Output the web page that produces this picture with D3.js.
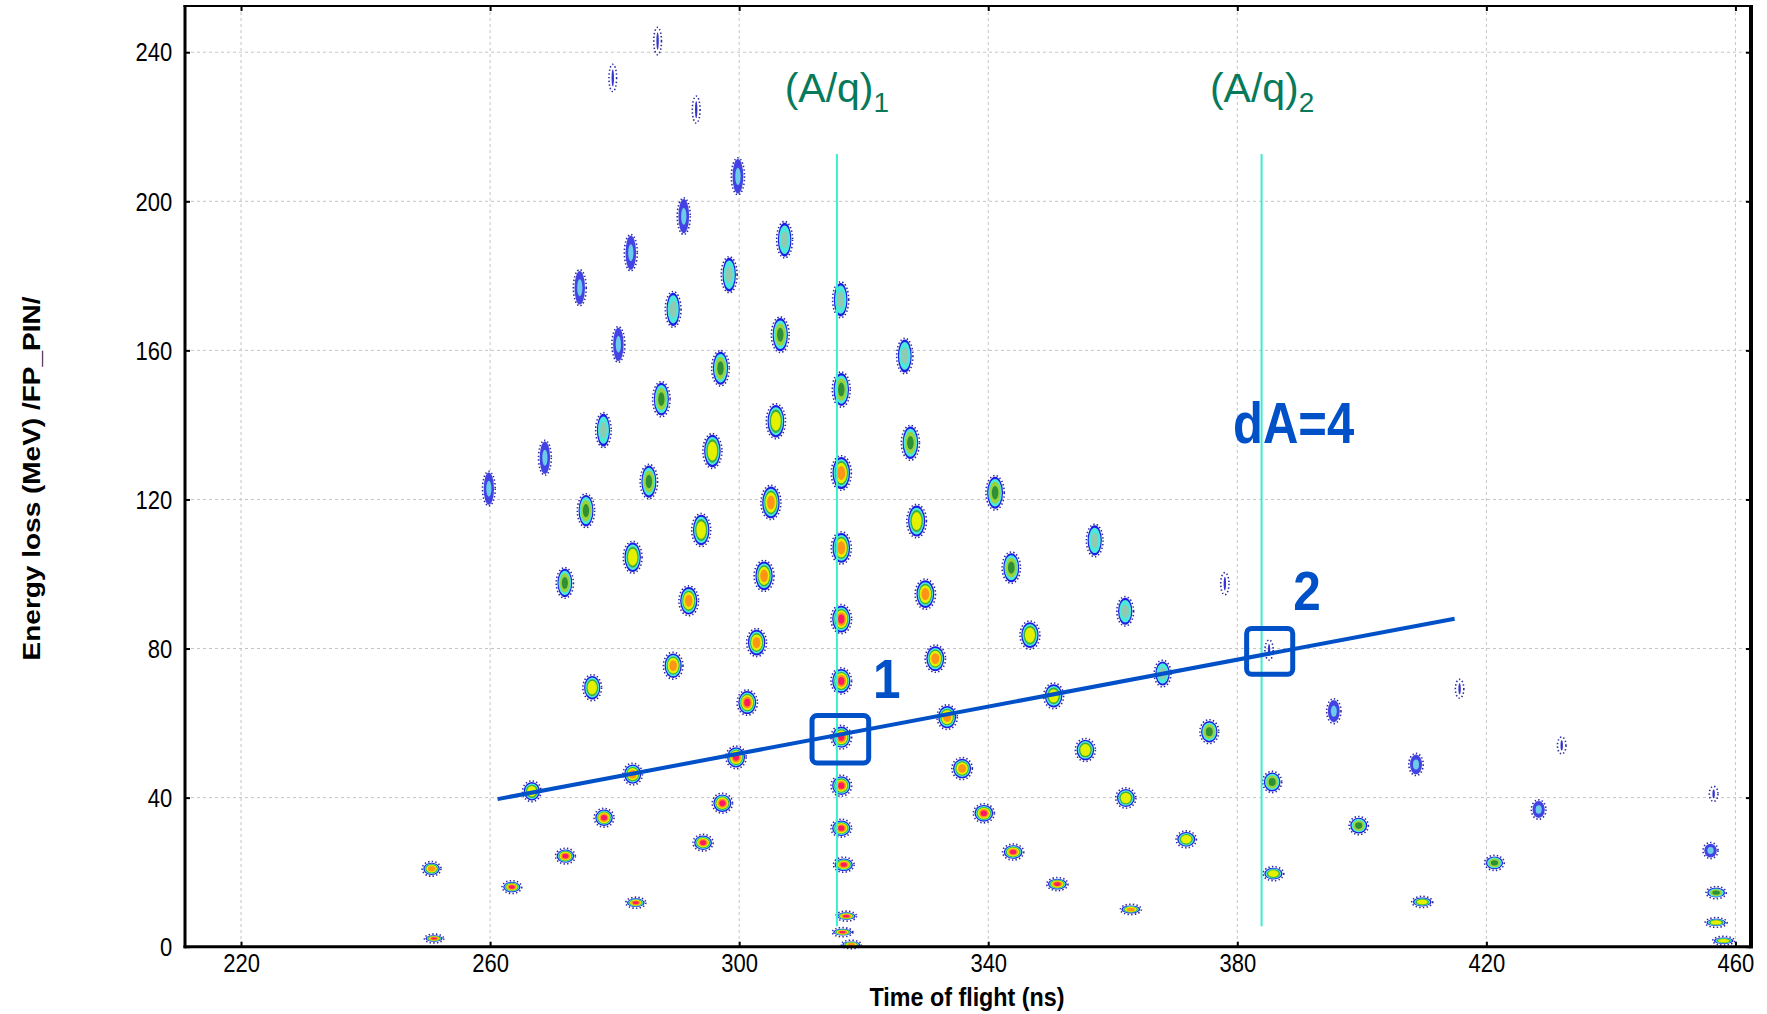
<!DOCTYPE html>
<html>
<head>
<meta charset="utf-8">
<script src="https://cdn.jsdelivr.net/npm/d3@7"></script>
<style>
  html, body { margin: 0; padding: 0; background: #ffffff; }
  svg { display: block; }
</style>
</head>
<body>
<svg id="chart" width="1767" height="1014"></svg>
<script>
// ---- Axis ticks ----
const xTicks = [220, 260, 300, 340, 380, 420, 460];
const yTicks = [0, 40, 80, 120, 160, 200, 240];
const xLimits = [211, 462.5];
const yLimits = [0, 252.4];

// ---- Identified isotope clusters: time of flight (ns), energy loss (MeV), peak count level (1 = few counts ... 7 = highest) ----
const tofNs = [
  286.9, 279.7, 293.1, 299.8, 291.1, 307.3, 282.6, 298.4, 316.3, 274.4,
  289.4, 306.6, 280.6, 326.6, 297.0, 287.5, 316.4, 305.9, 278.2, 327.5,
  268.8, 295.7, 259.8, 285.5, 316.4, 275.4, 305.1, 341.1, 328.5, 293.9,
  357.1, 316.4, 282.9, 304.0, 343.7, 272.0, 378.0, 329.9, 291.9, 362.0,
  316.4, 302.8, 346.7, 385.1, 331.5, 289.4, 276.4, 316.4, 368.0, 350.5,
  395.5, 301.3, 333.4, 316.4, 355.6, 375.5, 415.7, 432.1, 299.5, 282.9,
  335.8, 316.4, 266.7, 385.6, 408.7, 362.1, 297.3, 339.3, 278.3, 428.4,
  316.4, 399.5, 371.8, 294.2, 272.1, 344.0, 456.0, 250.6, 316.8, 421.3,
  263.5, 351.1, 456.9, 409.7, 283.4, 385.8, 362.9, 317.2, 456.9, 251.0,
  316.6, 458.1, 318.0, 456.5
];
const dEMeV = [
  243.0, 233.1, 224.6, 206.7, 196.0, 189.7, 186.2, 180.3, 173.6, 176.8,
  171.0, 164.2, 161.6, 158.5, 155.2, 146.9, 149.5, 141.0, 138.6, 135.2,
  131.2, 133.0, 122.9, 124.8, 127.1, 117.0, 119.2, 121.8, 114.2, 111.8,
  109.0, 107.0, 104.5,  99.5, 101.7,  97.6,  97.4,  94.6,  92.8,  90.0,
   87.9,  81.6,  83.6,  79.6,  77.3,  75.4,  69.5,  71.3,  73.3,  67.3,
   63.2,  65.5,  61.6,  56.2,  52.8,  57.7,  69.2,  54.0,  50.8,  46.3,
   47.8,  43.2,  41.7,  44.2,  48.9,  39.9,  38.5,  35.8,  34.6,  36.8,
   31.8,  32.5,  28.8,  27.9,  24.3,  25.4,  25.8,  20.9,  22.0,  22.5,
   16.0,  16.8,  14.5,  12.0,  11.8,  19.6,  10.0,   8.2,   6.5,   2.2,
    3.9,   1.6,   0.6,  41.0
];
const peakLevel = [
  1, 1, 1, 2, 2, 3, 2, 3, 3, 2,
  3, 4, 2, 3, 4, 4, 4, 5, 3, 4,
  2, 5, 2, 4, 6, 4, 6, 4, 5, 5,
  3, 6, 5, 6, 4, 4, 1, 6, 6, 3,
  7, 6, 5, 1, 6, 6, 5, 7, 3, 5,
  2, 7, 6, 7, 5, 4, 1, 1, 7, 6,
  6, 7, 5, 4, 2, 5, 7, 7, 7, 2,
  7, 4, 5, 7, 7, 7, 2, 6, 7, 4,
  7, 7, 4, 5, 7, 5, 6, 7, 5, 7,
  7, 5, 6, 1
];

// ---- Constant A/q markers ----
const aqTof = [315.7, 383.9];
const aqSpanDE = [5.5, 212.7];
const aqIndex = ["1", "2"];
const aqLabelTof = [307.3, 375.6];
const aqLabelDE = 226.7;

// ---- Line through neighbouring isotopes (dA = 4) ----
const trendTof = [261.2, 414.9];
const trendDE = [39.6, 88.0];

// ---- Selection boxes 1 and 2 ----
const boxNames = ["1", "2"];
const boxTof = [[311.7, 320.8], [381.5, 388.9]];
const boxDE = [[49.3, 62.0], [73.1, 85.4]];
const boxLabelTof = [323.7, 391.2];
const boxLabelDE = [66.8, 90.3];
const dALabel = "dA=4";
const dALabelTof = 379.3;
const dALabelDE = 135.1;

// ---- Layout ----
const svg = d3.select("#chart");
const plotL = 185, plotR = 1751, plotT = 6, plotB = 946.7;
const x = d3.scaleLinear().domain(xLimits).range([plotL, plotR]);
const y = d3.scaleLinear().domain(yLimits).range([plotB, plotT]);
const font = "'Liberation Sans', Arial, Helvetica, sans-serif";
const blue = "#0050c8";
const teal = "#067a5a";
const aqua = "#3aeed0";

// Grid
const grid = svg.append("g").attr("stroke", "#c4c4c4").attr("stroke-width", 1).attr("stroke-dasharray", "3,3");
grid.selectAll("line.vx").data(xTicks).join("line")
  .attr("x1", d => x(d)).attr("x2", d => x(d))
  .attr("y1", plotT).attr("y2", plotB);
grid.selectAll("line.hy").data(yTicks.filter(d => d > 0)).join("line")
  .attr("x1", plotL).attr("x2", plotR)
  .attr("y1", d => y(d)).attr("y2", d => y(d));

// Clusters drawn as nested count contours (outer = low counts, inner = peak)
const blobs = tofNs.map((t, i) => ({ tof: t, de: dEMeV[i], level: peakLevel[i] }));
const contourSets = {
  2: [["#2222e0", 1, 0.85], ["#6fdce8", 0.5, 0.9]],
  3: [["#1c1ce6", 1, 1], ["#4ae9dc", 0.84, 1], ["#93c9b0", 0.5, 1]],
  4: [["#1c1ce6", 1, 1], ["#4ae9dc", 0.86, 1], ["#9ad23a", 0.68, 1], ["#2e8f35", 0.42, 1]],
  5: [["#1c1ce6", 1, 1], ["#4ae9dc", 0.86, 1], ["#38ad40", 0.72, 1], ["#e4f000", 0.58, 1]],
  6: [["#1c1ce6", 1, 1], ["#4ae9dc", 0.86, 1], ["#38ad40", 0.74, 1], ["#e4f000", 0.64, 1], ["#ff9416", 0.44, 1]],
  7: [["#1c1ce6", 1, 1], ["#4ae9dc", 0.87, 1], ["#38ad40", 0.76, 1], ["#e4f000", 0.67, 1], ["#ff9416", 0.52, 1], ["#ff1864", 0.34, 1]]
};
const widthByLevel = [0, 0.3, 0.6, 0.75, 0.85, 0.93, 0.97, 1];
const heightPx = d3.scaleLinear().domain([0, 10, 20, 40, 60, 120, 260])
  .range([6, 8, 12, 18, 22, 32, 36]).clamp(true);
const widthPx = d3.scaleLinear().domain([250, 460]).range([17, 21]).clamp(true);

const blobLayer = svg.append("g");
blobs.forEach(b => {
  const rx = widthPx(b.tof) * widthByLevel[b.level] / 2;
  const ry = heightPx(b.de) / 2 * (b.level === 1 ? 0.7 : 1);
  const g = blobLayer.append("g").attr("transform", `translate(${x(b.tof)},${y(b.de)})`);
  if (b.level === 1) {
    g.append("ellipse").attr("rx", 1.2).attr("ry", ry * 0.7).attr("fill", "#3434d0");
  } else {
    contourSets[b.level].forEach(([col, f, op]) => {
      g.append("ellipse")
        .attr("rx", rx * f).attr("ry", ry * f)
        .attr("fill", col).attr("fill-opacity", op);
    });
  }
  g.append("ellipse")
    .attr("rx", rx + 1.2).attr("ry", ry + 1.2)
    .attr("fill", "none").attr("stroke", "#2b2aa0")
    .attr("stroke-width", 1.6).attr("stroke-dasharray", "1.4 2.2");
});

// A/q vertical markers
svg.append("g").selectAll("line").data(aqTof).join("line")
  .attr("x1", d => x(d)).attr("x2", d => x(d))
  .attr("y1", y(aqSpanDE[1])).attr("y2", y(aqSpanDE[0]))
  .attr("stroke", aqua).attr("stroke-width", 2);

aqTof.forEach((t, i) => {
  const txt = svg.append("text")
    .attr("x", x(aqLabelTof[i])).attr("y", y(aqLabelDE))
    .attr("font-family", font).attr("font-size", 41).attr("fill", teal);
  txt.append("tspan").text("(A/q)");
  txt.append("tspan").attr("font-size", 28).attr("dy", 10).text(aqIndex[i]);
});

// dA = 4 line
svg.append("path")
  .datum(trendTof.map((t, i) => [t, trendDE[i]]))
  .attr("d", d3.line().x(d => x(d[0])).y(d => y(d[1])))
  .attr("fill", "none").attr("stroke", blue).attr("stroke-width", 4);

// Selection boxes
svg.append("g").selectAll("rect").data(boxNames).join("rect")
  .attr("x", (d, i) => x(boxTof[i][0]))
  .attr("y", (d, i) => y(boxDE[i][1]))
  .attr("width", (d, i) => x(boxTof[i][1]) - x(boxTof[i][0]))
  .attr("height", (d, i) => y(boxDE[i][0]) - y(boxDE[i][1]))
  .attr("rx", 5).attr("ry", 5)
  .attr("fill", "none").attr("stroke", blue).attr("stroke-width", 5);

boxNames.forEach((n, i) => {
  svg.append("text")
    .attr("transform", `translate(${x(boxLabelTof[i])},${y(boxLabelDE[i])}) scale(0.9,1)`)
    .attr("text-anchor", "middle")
    .attr("font-family", font).attr("font-weight", "bold").attr("font-size", 55)
    .attr("fill", blue).text(n);
});

svg.append("text")
  .attr("transform", `translate(${x(dALabelTof)},${y(dALabelDE)}) scale(0.86,1)`)
  .attr("font-family", font).attr("font-weight", "bold").attr("font-size", 57)
  .attr("fill", blue).text(dALabel);

// Axes: inward tick marks on all four sides
const tickStyle = g => {
  g.select(".domain").remove();
  g.selectAll(".tick line").attr("stroke", "#000").attr("stroke-width", 2);
  g.selectAll(".tick text")
    .attr("font-family", font).attr("font-size", 25).attr("fill", "#000")
    .attr("transform", "scale(0.88,1)");
};
svg.append("g").attr("transform", `translate(0,${plotB})`)
  .call(d3.axisBottom(x).tickValues(xTicks).tickSizeInner(-5).tickSizeOuter(0).tickPadding(7.5))
  .call(tickStyle);
svg.append("g").attr("transform", `translate(${plotL},0)`)
  .call(d3.axisLeft(y).tickValues(yTicks).tickSizeInner(-5).tickSizeOuter(0).tickPadding(14.5))
  .call(tickStyle)
  .call(g => g.selectAll(".tick text").attr("dy", "0.35em"));
svg.append("g").attr("transform", `translate(0,${plotT})`)
  .call(d3.axisTop(x).tickValues(xTicks).tickSizeInner(-5).tickSizeOuter(0).tickFormat(""))
  .call(tickStyle);
svg.append("g").attr("transform", `translate(${plotR},0)`)
  .call(d3.axisRight(y).tickValues(yTicks).tickSizeInner(-5).tickSizeOuter(0).tickFormat(""))
  .call(tickStyle);

// Frame
const frame = svg.append("g").attr("stroke", "#000").attr("fill", "none");
frame.append("line").attr("x1", plotL - 1.5).attr("x2", plotR + 2).attr("y1", plotT).attr("y2", plotT).attr("stroke-width", 2);
frame.append("line").attr("x1", plotR).attr("x2", plotR).attr("y1", plotT - 1).attr("y2", plotB + 1.5).attr("stroke-width", 4);
frame.append("line").attr("x1", plotL).attr("x2", plotL).attr("y1", plotT - 1).attr("y2", plotB + 1.5).attr("stroke-width", 3);
frame.append("line").attr("x1", plotL - 1.5).attr("x2", plotR + 2).attr("y1", plotB).attr("y2", plotB).attr("stroke-width", 3);

// Axis titles
svg.append("text")
  .attr("transform", "translate(967,1006) scale(0.88,1)")
  .attr("text-anchor", "middle")
  .attr("font-family", font).attr("font-weight", "bold").attr("font-size", 26.5)
  .attr("fill", "#000").text("Time of flight (ns)");
svg.append("text")
  .attr("transform", "translate(40,478.5) rotate(-90) scale(1,0.88)")
  .attr("text-anchor", "middle")
  .attr("font-family", font).attr("font-weight", "bold").attr("font-size", 28)
  .attr("fill", "#000").text("Energy loss (MeV) /FP_PIN/");
</script>
</body>
</html>
